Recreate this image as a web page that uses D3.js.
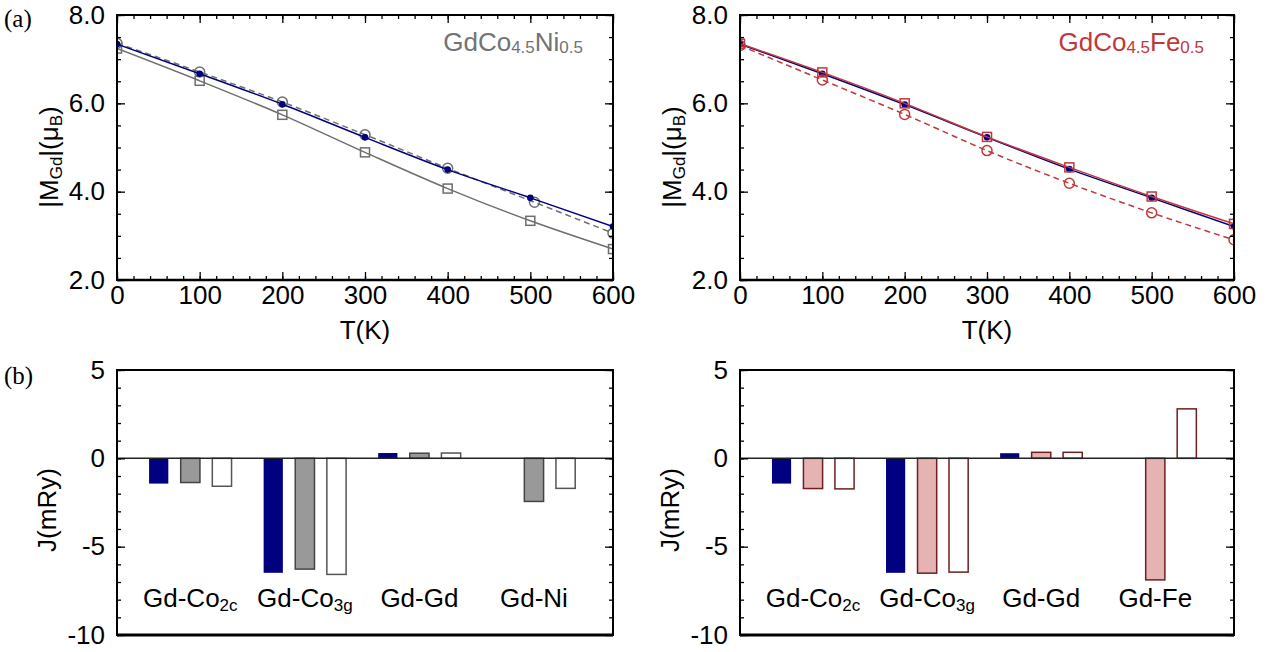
<!DOCTYPE html>
<html lang="en">
<head>
<meta charset="UTF-8">
<title>Gd moments and exchange</title>
<script src="https://d3js.org/d3.v7.min.js"></script>
<style>
  body { margin: 0; background: #fff; }
  svg { display: block; }
  text { font-family: "Liberation Sans", Arial, Helvetica, sans-serif; }
  .tick text { font-size: 26px; fill: #000; }
  .tick line { stroke: #000; stroke-width: 1.3; }
  .panel-label { font-family: "Liberation Serif", "DejaVu Serif", serif; font-size: 25px; }
</style>
</head>
<body>
<script>
// ---- data: top panels, |M_Gd| vs T ----
const temps = [0, 100, 200, 300, 400, 500, 600];
const niTempsCircle = [0, 100, 200, 300, 400, 505, 600];
const niBlue   = [7.34, 6.67, 5.98, 5.23, 4.50, 3.86, 3.21];
const niCircle = [7.36, 6.71, 6.03, 5.29, 4.53, 3.76, 3.06];
const niSquare = [7.24, 6.51, 5.74, 4.89, 4.07, 3.34, 2.70];
const feBlue   = [7.34, 6.67, 5.97, 5.23, 4.51, 3.86, 3.21];
const feSquare = [7.35, 6.70, 6.00, 5.24, 4.55, 3.89, 3.27];
const feCircle = [7.31, 6.53, 5.75, 4.93, 4.19, 3.52, 2.91];
const mTicks = [2, 4, 6, 8];
const tTicks = [0, 100, 200, 300, 400, 500, 600];

// ---- data: bottom panels, J per pair ----
const niPairs = [["Gd-Co", "2c"], ["Gd-Co", "3g"], ["Gd-Gd", ""], ["Gd-Ni", ""]];
const fePairs = [["Gd-Co", "2c"], ["Gd-Co", "3g"], ["Gd-Gd", ""], ["Gd-Fe", ""]];
const niJBlue  = [-1.43, -6.48, 0.30, null];
const niJGray  = [-1.37, -6.27, 0.29, -2.44];
const niJWhite = [-1.58, -6.57, 0.30, -1.70];
const feJBlue  = [-1.43, -6.48, 0.29, null];
const feJPink  = [-1.71, -6.50, 0.34, -6.88];
const feJWhite = [-1.73, -6.44, 0.34, 2.80];
const jTicks = [-10, -5, 0, 5];

const navy = "#000080", gray = "#6e6e6e", red = "#c0383b";

const svg = d3.select("body").append("svg")
    .attr("width", 1273).attr("height", 652);

function frame(g, x0, x1, y0, y1, bottomW) {
    g.append("rect").attr("x", x0).attr("y", y0)
        .attr("width", x1 - x0).attr("height", y1 - y0)
        .attr("fill", "none").attr("stroke", "#000").attr("stroke-width", 2);
    g.append("line").attr("x1", x0).attr("x2", x1).attr("y1", y1).attr("y2", y1)
        .attr("stroke", "#000").attr("stroke-width", bottomW);
}

function yAxes(g, y, x0, x1, major, minor, fmt) {
    g.append("g").attr("transform", `translate(${x0},0)`)
        .call(d3.axisLeft(y).tickValues(minor).tickSize(-4).tickFormat(""));
    g.append("g").attr("transform", `translate(${x1},0)`)
        .call(d3.axisRight(y).tickValues(minor).tickSize(-4).tickFormat(""));
    g.append("g").attr("transform", `translate(${x0},0)`)
        .call(d3.axisLeft(y).tickValues(major).tickSize(-8).tickPadding(12).tickFormat(fmt));
    g.append("g").attr("transform", `translate(${x1},0)`)
        .call(d3.axisRight(y).tickValues(major).tickSize(-8).tickFormat(""));
    g.selectAll(".domain").remove();
}

function magPanel(id, x0, x1, series, title, titleColor) {
    const y0 = 15, y1 = 280;
    const g = svg.append("g");
    const x = d3.scaleLinear().domain([0, 600]).range([x0, x1]);
    const y = d3.scaleLinear().domain([2, 8]).range([y1, y0]);

    g.append("clipPath").attr("id", id).append("rect")
        .attr("x", x0).attr("y", y0).attr("width", x1 - x0).attr("height", y1 - y0);
    const plot = g.append("g").attr("clip-path", `url(#${id})`);

    const line = d3.line().x(d => x(d[0])).y(d => y(d[1])).curve(d3.curveMonotoneX);
    series.forEach(s => {
        const pts = s.t.map((t, i) => [t, s.v[i]]);
        plot.append("path").attr("d", line(pts))
            .attr("fill", "none").attr("stroke", s.color).attr("stroke-width", 1.5)
            .attr("stroke-dasharray", s.dash ? "6,4" : null);
        pts.forEach(p => {
            if (s.marker === "square") {
                plot.append("rect").attr("x", x(p[0]) - 4.5).attr("y", y(p[1]) - 4.5)
                    .attr("width", 9).attr("height", 9)
                    .attr("fill", "none").attr("stroke", s.color).attr("stroke-width", 1.5);
            } else if (s.marker === "circle") {
                plot.append("circle").attr("cx", x(p[0])).attr("cy", y(p[1])).attr("r", 5)
                    .attr("fill", "none").attr("stroke", s.color).attr("stroke-width", 1.5);
            } else {
                plot.append("circle").attr("cx", x(p[0])).attr("cy", y(p[1])).attr("r", 3.3)
                    .attr("fill", s.color);
            }
        });
    });

    const minorT = d3.range(0, 601, 20);
    g.append("g").attr("transform", `translate(0,${y1})`)
        .call(d3.axisBottom(x).tickValues(minorT).tickSize(-4).tickFormat(""));
    g.append("g").attr("transform", `translate(0,${y0})`)
        .call(d3.axisTop(x).tickValues(minorT).tickSize(-4).tickFormat(""));
    g.append("g").attr("transform", `translate(0,${y1})`)
        .call(d3.axisBottom(x).tickValues(tTicks).tickSize(-8).tickPadding(6));
    g.append("g").attr("transform", `translate(0,${y0})`)
        .call(d3.axisTop(x).tickValues(tTicks).tickSize(-8).tickFormat(""));
    yAxes(g, y, x0, x1, mTicks, d3.range(2, 8.01, 0.5), d3.format(".1f"));
    frame(g, x0, x1, y0, y1, 2.5);

    g.append("text").attr("x", (x0 + x1) / 2).attr("y", 339)
        .attr("text-anchor", "middle").attr("font-size", 26).text("T(K)");

    const yl = g.append("text").attr("transform", `translate(${x0 - 59},157) rotate(-90)`)
        .attr("text-anchor", "middle").attr("font-size", 26);
    yl.append("tspan").text("|M");
    yl.append("tspan").attr("font-size", 17).attr("dy", 4).text("Gd");
    yl.append("tspan").attr("dy", -4).text("|(μ");
    yl.append("tspan").attr("font-size", 17).attr("dy", 4).text("B");
    yl.append("tspan").attr("dy", -4).text(")");

    const tt = g.append("text").attr("x", x1 - 30).attr("y", 51)
        .attr("text-anchor", "end").attr("font-size", 26).attr("fill", titleColor);
    tt.append("tspan").text("GdCo");
    tt.append("tspan").attr("font-size", 17).attr("dy", 2).text("4.5");
    tt.append("tspan").attr("dy", -2).text(title);
    tt.append("tspan").attr("font-size", 17).attr("dy", 2).text("0.5");
}

function barPanel(x0, x1, pairs, sets) {
    const y0 = 370, y1 = 635;
    const g = svg.append("g");
    const x = d3.scaleLinear().domain([-0.64, 3.69]).range([x0, x1]);
    const y = d3.scaleLinear().domain([-10, 5]).range([y1, y0]);
    const offset = 0.276, bw = 0.168;

    sets.forEach((s, k) => {
        s.v.forEach((v, i) => {
            if (v === null) return;
            const cx = i + (k - 1) * offset;
            g.append("rect")
                .attr("x", x(cx - bw / 2)).attr("width", x(bw) - x(0))
                .attr("y", y(Math.max(v, 0))).attr("height", Math.abs(y(v) - y(0)))
                .attr("fill", s.fill)
                .attr("stroke", s.stroke).attr("stroke-width", s.stroke === "none" ? 0 : 1.5);
        });
    });

    g.append("line").attr("x1", x0).attr("x2", x1).attr("y1", y(0)).attr("y2", y(0))
        .attr("stroke", "#222").attr("stroke-width", 1.5);

    yAxes(g, y, x0, x1, jTicks, d3.range(-10, 5.01, 1), d => String(d));
    frame(g, x0, x1, y0, y1, 3);

    pairs.forEach((p, i) => {
        const t = g.append("text").attr("x", x(i)).attr("y", y(-8.4))
            .attr("text-anchor", "middle").attr("font-size", 26);
        t.append("tspan").text(p[0]);
        if (p[1]) t.append("tspan").attr("font-size", 17).attr("dy", 4).text(p[1]);
    });

    g.append("text").attr("transform", `translate(${x0 - 61},510) rotate(-90)`)
        .attr("text-anchor", "middle").attr("font-size", 26).text("J(mRy)");
}

magPanel("clipNi", 117, 613, [
    { t: temps, v: niSquare, color: gray, marker: "square" },
    { t: niTempsCircle, v: niCircle, color: gray, marker: "circle", dash: true },
    { t: temps, v: niBlue, color: navy, marker: "dot" }
], "Ni", "#737373");

magPanel("clipFe", 740, 1234, [
    { t: temps, v: feBlue, color: navy, marker: "dot" },
    { t: temps, v: feSquare, color: red, marker: "square" },
    { t: temps, v: feCircle, color: red, marker: "circle", dash: true }
], "Fe", red);

barPanel(117, 613, niPairs, [
    { v: niJBlue, fill: navy, stroke: "none" },
    { v: niJGray, fill: "#999999", stroke: "#444" },
    { v: niJWhite, fill: "#fff", stroke: "#555" }
]);

barPanel(740, 1234, fePairs, [
    { v: feJBlue, fill: navy, stroke: "none" },
    { v: feJPink, fill: "#e6b3b3", stroke: "#6e1f1f" },
    { v: feJWhite, fill: "#fff", stroke: "#6e1f1f" }
]);

svg.append("text").attr("class", "panel-label").attr("x", 4).attr("y", 27).text("(a)");
svg.append("text").attr("class", "panel-label").attr("x", 4).attr("y", 384).text("(b)");
</script>
</body>
</html>
